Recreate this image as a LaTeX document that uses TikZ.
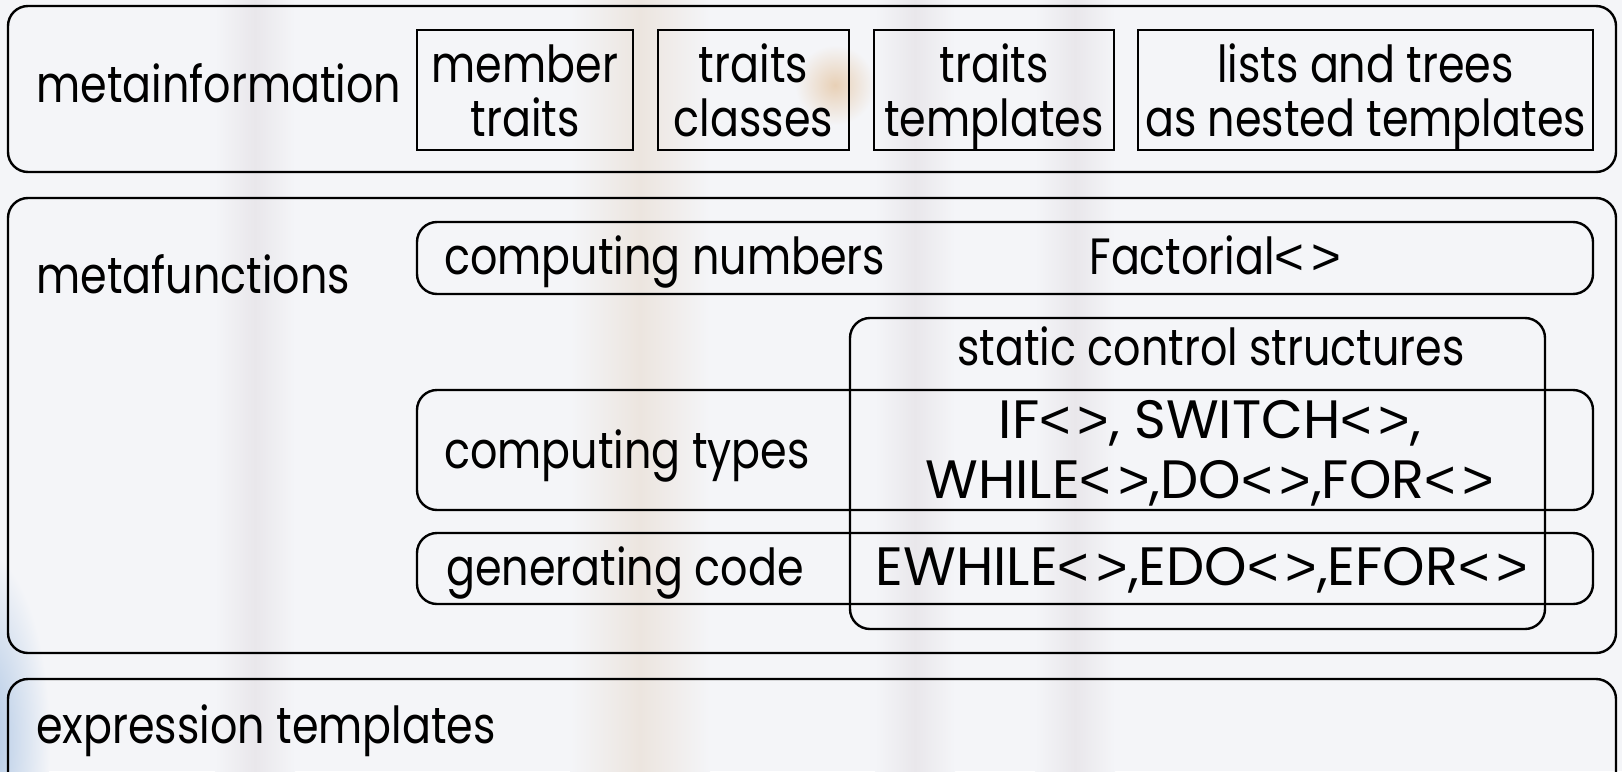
\documentclass[tikz,border=0pt]{standalone}
\usepackage{fontspec}
\setmainfont{Poppins}[FakeStretch=0.84]
\newfontfamily\capsfont{Poppins}
\newfontfamily\angfont{Liberation Sans}
\newcommand\angs{{\angfont<\hspace{3.5pt}>}}
\usetikzlibrary{fit}
\definecolor{bgcol}{RGB}{244,245,248}
\definecolor{bandgrey}{RGB}{233,231,235}
\definecolor{bandbeige}{RGB}{236,229,223}
\definecolor{blobor}{RGB}{232,208,182}
\definecolor{cornerblue}{RGB}{168,194,226}
\tikzset{
  frame/.style={draw=black, line width=1.2pt, rounded corners=10pt, inner sep=0pt},
  sqbox/.style={draw=black, line width=1.1pt, inner sep=0pt},
  lbl/.style={inner sep=0pt, font=\fontsize{25.5}{27}\selectfont},
  capslbl/.style={inner sep=0pt, text height=19.5pt, text depth=4pt,
    font=\capsfont\fontsize{27}{30}\selectfont},
  band/.style={left color=bgcol, right color=bgcol},
}
\begin{document}
\begin{tikzpicture}[x=0.5pt,y=-0.5pt]
\useasboundingbox (0,0) rectangle (1622,771);
% soft backdrop
\begin{scope}
\clip (0,0) rectangle (1622,771);
\fill[bgcol] (0,0) rectangle (1622,771);
\shade[band, middle color=bandgrey] (215,0) rectangle (295,771);
\shade[band, middle color=bandbeige] (570,0) rectangle (710,771);
\shade[band, middle color=bandgrey] (875,0) rectangle (955,771);
\shade[band, middle color=bandgrey] (1035,0) rectangle (1115,771);
\shade[inner color=blobor, outer color=bgcol] (835,85) circle (40);
\shade[inner color=cornerblue, outer color=bgcol] (-20,740) ellipse (70 and 190);
\end{scope}

% metainformation
\node[frame, fit={(8,6) (1616,172)}] (metainfo) {};
\node[lbl, anchor=base west] (metainfoLbl) at (36,102) {metainformation};
\node[sqbox, fit={(417,30) (633,150)}] (member) {};
\node[lbl, anchor=base] (memberA) at (525,82) {member};
\node[lbl, anchor=base] (memberB) at (525,136) {traits};
\node[sqbox, fit={(658,30) (849,150)}] (tclasses) {};
\node[lbl, anchor=base] (tclassesA) at (753.5,82) {traits};
\node[lbl, anchor=base] (tclassesB) at (753.5,136) {classes};
\node[sqbox, fit={(874,30) (1114,150)}] (ttemplates) {};
\node[lbl, anchor=base] (ttemplatesA) at (994,82) {traits};
\node[lbl, anchor=base] (ttemplatesB) at (994,136) {templates};
\node[sqbox, fit={(1138,30) (1593,150)}] (lists) {};
\node[lbl, anchor=base] (listsA) at (1365.5,82) {lists and trees};
\node[lbl, anchor=base] (listsB) at (1365.5,136) {as nested templates};

% metafunctions
\node[frame, fit={(8,198) (1616,653)}] (metafun) {};
\node[lbl, anchor=base west] (metafunLbl) at (36,293) {metafunctions};

\node[frame, fit={(417,222) (1593,294)}] (numbers) {};
\node[lbl, anchor=base west] (numbersLbl) at (444,274) {computing numbers};
\node[lbl, anchor=base west] (factorial) at (1089,274) {Factorial\angs};

\node[frame, fit={(417,390) (1593,510)}] (types) {};
\node[lbl, anchor=base west] (typesLbl) at (444,468) {computing types};

\node[frame, fit={(417,533) (1593,604)}] (gencode) {};
\node[lbl, anchor=base west] (gencodeLbl) at (446,585) {generating code};

\node[frame, fit={(850,318) (1545,629)}] (control) {};
\node[lbl, anchor=base] (controlLbl) at (1211,365) {static control structures};
\node[capslbl, anchor=base] (ctrlTypesA) at (1210,438) {IF\angs, SWITCH\angs,};
\node[capslbl, anchor=base] (ctrlTypesB) at (1210,498) {WHILE\angs,DO\angs,FOR\angs};
\node[capslbl, anchor=base] (ctrlCode) at (1202,585) {EWHILE\angs,EDO\angs,EFOR\angs};

% expression templates
\node[frame, fit={(8,679) (1616,800)}] (exprtmpl) {};
\node[lbl, anchor=base west] (exprLbl) at (36,743) {expression templates};
\end{tikzpicture}
\end{document}
